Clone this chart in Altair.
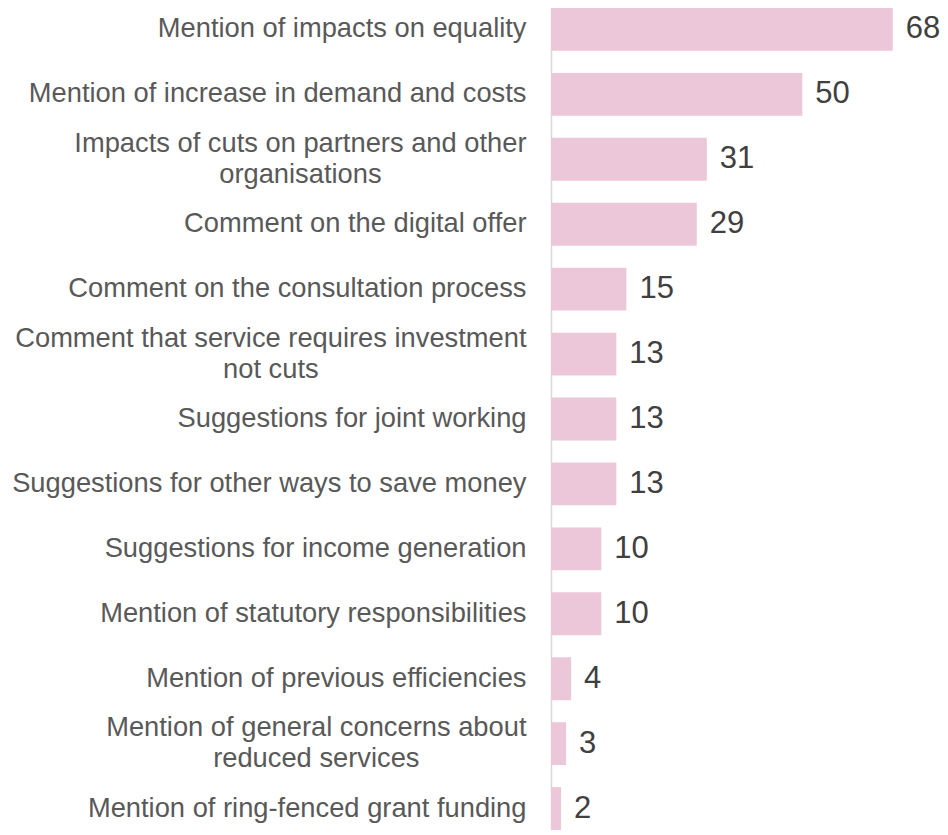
import altair as alt
import pandas as pd

categories = [
    "Mention of impacts on equality",
    "Mention of increase in demand and costs",
    "Impacts of cuts on partners and other|organisations",
    "Comment on the digital offer",
    "Comment on the consultation process",
    "Comment that service requires investment|not cuts",
    "Suggestions for joint working",
    "Suggestions for other ways to save money",
    "Suggestions for income generation",
    "Mention of statutory responsibilities",
    "Mention of previous efficiencies",
    "Mention of general concerns about|reduced services",
    "Mention of ring-fenced grant funding",
]
values = [68, 50, 31, 29, 15, 13, 13, 13, 10, 10, 4, 3, 2]

df = pd.DataFrame({"category": categories, "value": values})

FONT = "Liberation Sans"
LABEL_SIZE = 27.3
LINE_H = 31
GAP = 25  # gap between label block and axis

# Arial / Liberation Sans advance widths (units per 1000 em), used to centre
# the wrapped labels the way the original does.
ARIAL = {
    "a": 556, "b": 556, "c": 500, "d": 556, "e": 556, "f": 278, "g": 556,
    "h": 556, "i": 222, "j": 222, "k": 500, "l": 222, "m": 833, "n": 556,
    "o": 556, "p": 556, "q": 556, "r": 333, "s": 500, "t": 278, "u": 556,
    "v": 500, "w": 722, "x": 500, "y": 500, "z": 500, " ": 278, "-": 333,
    "I": 278, "C": 722, "M": 833, "S": 667,
}


def text_width(s, size):
    return sum(ARIAL.get(ch, 556) for ch in s) / 1000.0 * size


multi = [c for c in categories if "|" in c]
pad_conditions = [
    {
        "test": f"datum.value == '{c}'",
        "value": GAP + max(text_width(p, LABEL_SIZE) for p in c.split("|")) / 2,
    }
    for c in multi
]
is_multi = "indexof(datum.value, '|') >= 0"

base = alt.Chart(df).encode(
    y=alt.Y(
        "category:N",
        sort=None,
        scale=alt.Scale(paddingInner=0.34, paddingOuter=0),
        axis=alt.Axis(
            title=None,
            ticks=False,
            labelFont=FONT,
            labelFontSize=LABEL_SIZE,
            labelColor="#595959",
            labelExpr="split(datum.label, '|')",
            labelLineHeight=LINE_H,
            labelLimit=0,
            labelPadding={"condition": pad_conditions, "value": GAP},
            labelAlign={"condition": {"test": is_multi, "value": "center"}, "value": "right"},
            labelOffset={"condition": {"test": is_multi, "value": -LINE_H / 2}, "value": 0},
            domainColor="#d9d9d9",
            domainWidth=1.5,
            grid=False,
        ),
    )
)

bars = base.mark_bar(color="#ECC7D9").encode(
    x=alt.X("value:Q", scale=alt.Scale(domain=[0, 75], nice=False), axis=None)
)
text = base.mark_text(
    align="left", baseline="middle", dx=13, font=FONT, fontSize=31, color="#404040"
).encode(x=alt.X("value:Q"), text=alt.Text("value:Q"))

chart = (
    (bars + text)
    .properties(
        width=377,
        height=822,
        padding={"left": 543, "top": 0, "right": 12, "bottom": 0},
        autosize=alt.AutoSizeParams(type="none"),
    )
    .configure_view(stroke=None)
)

chart.save("out.html", embed_options={"renderer": "svg", "actions": False})
